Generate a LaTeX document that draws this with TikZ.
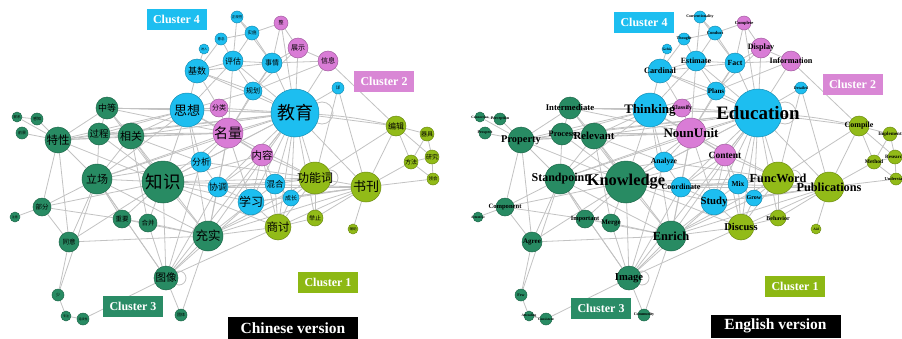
\documentclass[tikz,border=0pt]{standalone}
\usepackage{fontspec}
\setmainfont{Liberation Serif}
\newfontfamily\cjk{Noto Sans CJK SC}
\usetikzlibrary{backgrounds}
\definecolor{cyanN}{HTML}{1DBEF0}
\definecolor{pinkN}{HTML}{D97CD6}
\definecolor{oliveN}{HTML}{92BB18}
\definecolor{greenN}{HTML}{288B63}
\definecolor{pinkB}{HTML}{D987D5}
\definecolor{oliveB}{HTML}{8DB814}
\definecolor{greenB}{HTML}{2A8C66}
\definecolor{edgeC}{HTML}{C2C2C2}
\tikzset{
  netnode/.style={circle, inner sep=0pt, line width=0.5pt},
  zhlabel/.style={inner sep=0pt, text=black},
  enlabel/.style={inner sep=0pt, text=black},
  link/.style={draw=edgeC, line width=0.8pt},
  clusterbox/.style={inner sep=0pt, text=white, font=\bfseries\fontsize{12}{12}\selectfont, minimum width=60pt, minimum height=21pt},
  versionbox/.style={fill=black, text=white, font=\bfseries\fontsize{15.5}{15.5}\selectfont, inner sep=0pt, minimum width=130pt, minimum height=23pt}
}
\def\netlist{
edu/295/113/24/cyanN/教育/18/Education/19,
thk/187/110/17/cyanN/思想/13/Thinking/13,
card/197/71/12/cyanN/基数/9/Cardinal/8.3,
est/233/61/10/cyanN/评估/8/Estimate/8,
fact/272/63/10/cyanN/事情/7/Fact/7.8,
plan/253/91/9/cyanN/规划/7/Plans/7,
cond/252/33/7/cyanN/实施/4.5/Conduct/4.5,
conv/237/17/6/cyanN/正规性/3.5/Conventionality/4,
thou/221/39/6/cyanN/意念/3.5/Thought/4,
gehis/204/49/5/cyanN/进入/3/Gehis/3.5,
det/338/88/6/cyanN/详/4.5/Detailed/4,
ana/201/162/10/cyanN/分析/9/Analyze/7.6,
coord/218/187/10/cyanN/协调/9/Coordinate/8,
study/251/202/13/cyanN/学习/12/Study/10.7,
mix/275/184/10/cyanN/混合/8.5/Mix/7.5,
grow/291/198/8/cyanN/成长/6/Grow/6,
noun/228/133/15/pinkN/名量/14/NounUnit/13,
cls/219/108/9/pinkN/分类/7/Classify/6,
cont/262/155/11/pinkN/内容/10.5/Content/9.5,
disp/298/48/10/pinkN/展示/7/Display/8.2,
info/328/61/10/pinkN/信息/7/Information/8.2,
comp/281/23/7/pinkN/整/5/Complete/4.5,
func/315/178/16/oliveN/功能词/12/FuncWord/12.3,
pub/366/187/15/oliveN/书刊/13/Publications/12.3,
disc/278/227/13/oliveN/商讨/11.5/Discuss/10.5,
beh/315/218/8/oliveN/举止/6/Behavior/6,
aid/353/229/5/oliveN/辅助/3.5/Aid/3.5,
edit/396/126/10/oliveN/编辑/8/Compile/8,
impl/427/134/7/oliveN/器具/6/Implement/5,
res/432/157/7/oliveN/研究/6/Research/5,
meth/411/162/7/oliveN/方法/6/Method/5.5,
und/433/179/6/oliveN/领会/4.5/Understand/4.5,
know/163/182/21/greenN/知识/17.5/Knowledge/16.4,
stand/97/179/15/greenN/立场/11/Standpoint/12,
rel/131/136/13/greenN/相关/11/Relevant/10.8,
proc/99/134/11/greenN/过程/9.5/Process/8.3,
inter/107/108/11/greenN/中等/9/Intermediate/8.7,
prop/58/140/13/greenN/特性/11.5/Property/10.4,
conn/17/117/5/greenN/联系/3.5/Connection/3.5,
perc/37/119/6/greenN/感知/4/Perception/4,
pros/22/133/6/greenN/前景/4/Prospect/4,
enr/208/236/15/greenN/充实/12.5/Enrich/12.4,
img/166/278/12/greenN/图像/10.5/Image/10.6,
part/42/207/9/greenN/部分/6.5/Component/6.6,
att/15/217/5/greenN/注意/3/Attentive/3.5,
imp/122/219/9/greenN/重要/6.5/Important/6.4,
merge/148/223/9/greenN/合并/6.5/Merge/7,
agree/69/242/10/greenN/同意/6.5/Agree/7,
few/58/295/6/greenN/少/4/Few/4,
atd/66/316/5/greenN/专注/3/Attending/3.5,
cons/83/319/6/greenN/连续性/3/Consistent/3.5,
comm/181/315/6/greenN/团体/4/Community/4}
\def\edgelist{
edu/thk, edu/est, edu/fact, edu/plan, edu/disp, edu/info, edu/noun, edu/cls, edu/cont, edu/ana,
edu/coord, edu/study, edu/mix, edu/grow, edu/func, edu/pub, edu/disc, edu/edit, edu/know, edu/rel,
edu/inter, edu/enr, edu/beh, edu/card, edu/comp, edu/proc, edu/img, edu/stand, edu/prop,
thk/card, thk/est, thk/noun, thk/cls, thk/inter, thk/rel, thk/proc, thk/know, thk/ana, thk/plan,
thk/stand, thk/enr, thk/cont, thk/prop,
card/gehis, card/thou, card/est, card/plan, card/cls, card/fact,
est/fact, est/cond, est/thou, est/conv, est/plan, est/noun,
fact/comp, fact/cond, fact/disp, fact/plan, fact/noun, fact/conv,
cond/comp, cond/conv, thou/cond, disp/comp, disp/info, disp/plan,
info/edit, info/fact, info/plan, det/pub, det/edu, det/func,
noun/know, noun/cont, noun/rel, noun/ana, noun/coord, noun/study, noun/cls, noun/stand, noun/inter,
noun/prop, noun/func, noun/enr, noun/plan, noun/proc,
cont/study, cont/mix, cont/func, cont/coord, cont/know, cont/disc,
ana/know, ana/coord, ana/rel, ana/stand, ana/func,
coord/know, coord/study, coord/mix, coord/enr, coord/func, coord/pub,
study/disc, study/mix, study/enr, study/pub, study/know,
mix/func, mix/grow, mix/disc, grow/func, grow/disc, grow/pub,
func/pub, func/beh, func/disc, func/edit, func/know, func/enr,
pub/aid, pub/meth, pub/und, pub/edit, pub/disc, pub/beh, pub/study, pub/enr, pub/know,
edit/impl, edit/meth, edit/res, impl/res, res/meth, res/und, meth/und, meth/impl,
disc/beh, disc/enr, disc/img, disc/know,
know/stand, know/rel, know/proc, know/imp, know/merge, know/img, know/enr, know/inter, know/prop, know/part,
stand/prop, stand/part, stand/agree, stand/imp, stand/rel, stand/proc, stand/img, stand/enr,
rel/inter, rel/proc, rel/prop, rel/enr, rel/merge, proc/inter, proc/prop, inter/prop, inter/cls,
prop/conn, prop/perc, prop/pros, perc/conn, prop/agree, prop/part,
part/att, part/agree, part/imp, imp/merge, imp/enr, merge/enr, merge/img,
agree/enr, agree/few, agree/know, few/atd, atd/cons, cons/img, few/stand,
img/comm, img/enr, img/stand, img/ana, img/coord, img/study, enr/comm, enr/grow}
\begin{document}
\begin{tikzpicture}[x=1pt,y=-1pt]
\useasboundingbox (0,0) rectangle (902,338);
% circles
\foreach \id/\x/\y/\r/\col/\zh/\zs/\en/\es in \netlist {
  \node[netnode, fill=\col, draw=\col!75!black, minimum size={2pt*\r}] (c-\id) at (\x,\y) {};
  \node[netnode, fill=\col, draw=\col!75!black, minimum size={2pt*\r}] (e-\id) at (\x+463,\y) {};
}
% labels
\foreach \id/\x/\y/\r/\col/\zh/\zs/\en/\es in \netlist {
  \node[zhlabel, font=\cjk\fontsize{\zs}{\zs}\selectfont] (c-\id-t) at (c-\id.center) {\zh};
  \node[enlabel, font=\bfseries\fontsize{\es}{\es}\selectfont] (e-\id-t) at (e-\id.center) {\en};
}
% connectors
\begin{pgfonlayer}{background}
\foreach \a/\b in \edgelist {
  \draw[link] (c-\a) -- (c-\b);
  \draw[link] (e-\a) -- (e-\b);
}
\foreach \p in {c,e} {
  \draw[link] (\p-edu) to[bend left=4] (\p-edit);
  \draw[link] ([xshift=27pt]\p-edu.center) circle (11pt);
  \draw[link] ([xshift=15pt]\p-func.center) circle (8pt);
  \draw[link] ([xshift=13pt]\p-img.center) circle (7pt);
}
\end{pgfonlayer}
% cluster labels
\node[clusterbox, fill=cyanN] (c-cl4) at (176.5,19.5) {Cluster 4};
\node[clusterbox, fill=pinkB] (c-cl2) at (384,81) {Cluster 2};
\node[clusterbox, fill=oliveB] (c-cl1) at (328,282.5) {Cluster 1};
\node[clusterbox, fill=greenB] (c-cl3) at (133,306.5) {Cluster 3};
\node[clusterbox, fill=cyanN] (e-cl4) at (644,22.5) {Cluster 4};
\node[clusterbox, fill=pinkB] (e-cl2) at (852.5,84) {Cluster 2};
\node[clusterbox, fill=oliveB] (e-cl1) at (795,286) {Cluster 1};
\node[clusterbox, fill=greenB] (e-cl3) at (601,308.5) {Cluster 3};
\node[versionbox] (c-ver) at (293,328.5) {Chinese version};
\node[versionbox] (e-ver) at (775.5,326) {English version};
\end{tikzpicture}
\end{document}
